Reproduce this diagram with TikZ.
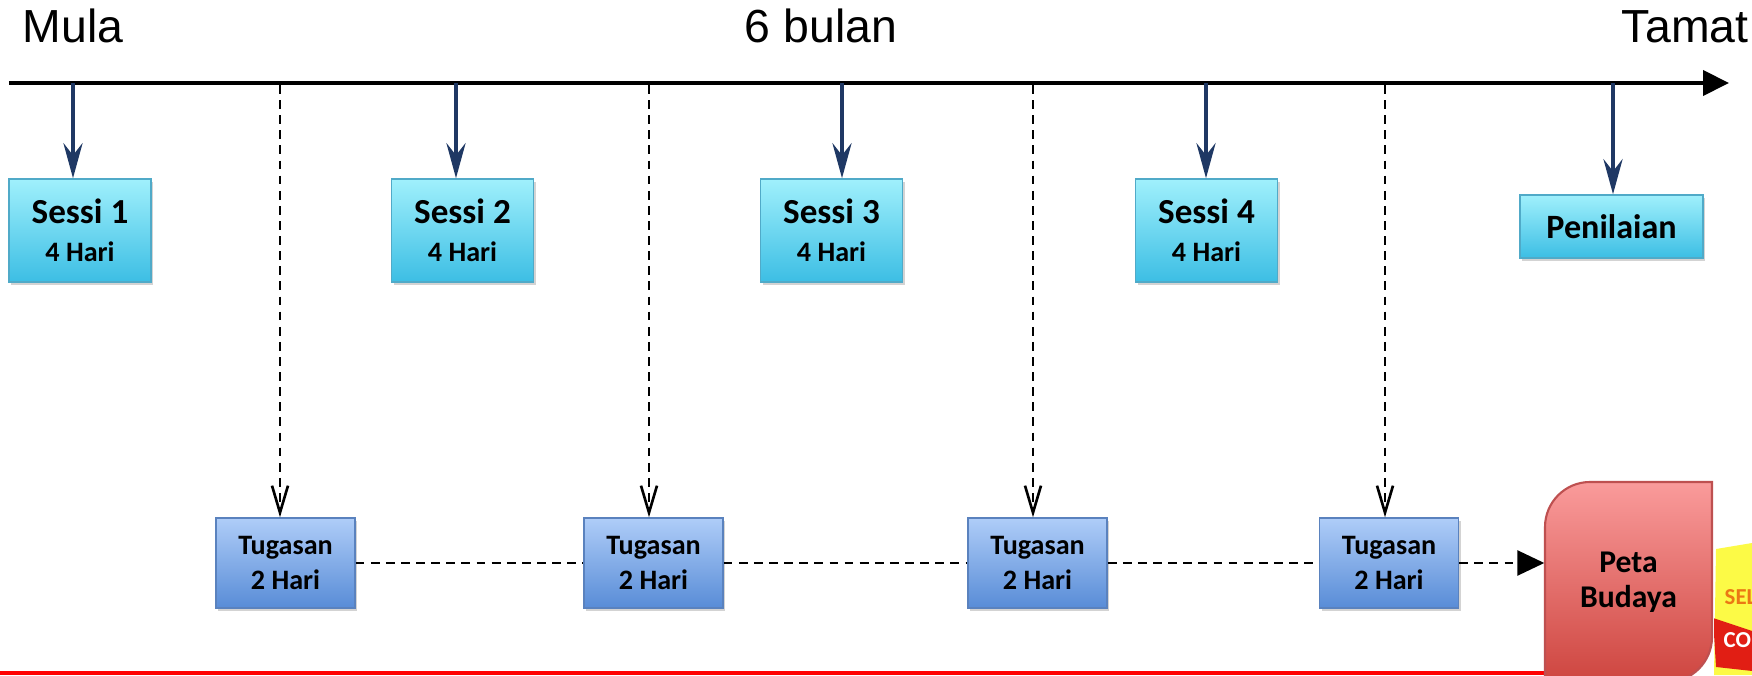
\documentclass[tikz,border=0pt]{standalone}
\usepackage{fontspec}
\setmainfont{Liberation Sans}
\newfontfamily\boxfont{Carlito}
\usetikzlibrary{arrows.meta, positioning, shadows, calc}

\definecolor{navy}{RGB}{31,56,100}
\definecolor{sessitop}{RGB}{160,240,252}
\definecolor{sessibot}{RGB}{60,190,228}
\definecolor{sessiline}{RGB}{80,170,200}
\definecolor{tugastop}{RGB}{175,205,248}
\definecolor{tugasbot}{RGB}{88,140,215}
\definecolor{tugasline}{RGB}{90,130,190}
\definecolor{petatop}{RGB}{250,155,155}
\definecolor{petabot}{RGB}{205,68,62}
\definecolor{petaline}{RGB}{190,80,80}
\definecolor{logoyellow}{RGB}{252,250,70}
\definecolor{logored}{RGB}{225,30,20}
\definecolor{logoorange}{RGB}{235,120,20}

\begin{document}
\begin{tikzpicture}[
        sessi/.style={rectangle, draw=sessiline, top color=sessitop, bottom color=sessibot, minimum width=1.42cm, minimum height=1.03cm, align=center, inner sep=0pt, font=\boxfont\bfseries\fontsize{8}{10.8}\selectfont, drop shadow={shadow xshift=0.6pt, shadow yshift=-0.9pt, opacity=0.35}},
        tugas/.style={rectangle, draw=tugasline, top color=tugastop, bottom color=tugasbot, minimum width=1.39cm, minimum height=0.90cm, align=center, inner sep=0pt, font=\boxfont\bfseries\fontsize{8}{10}\selectfont, drop shadow={shadow xshift=0.6pt, shadow yshift=-0.9pt, opacity=0.35}},
        marker/.style={draw=navy, line width=1.4pt, -{Stealth[length=0.35cm, width=0.19cm, inset=0.12cm]}},
        link/.style={dash pattern=on 2.5pt off 1.8pt, line width=0.75pt},
        tlabel/.style={font=\fontsize{13.2}{15}\selectfont, anchor=base, inner sep=0pt}
    ]
        \useasboundingbox (0,0) rectangle (17.52,6.75);

        \node[tlabel, anchor=base west] (mula) at (0.22,6.32) {Mula};
        \node[tlabel] (bulan) at (8.21,6.32) {6 bulan};
        \node[tlabel, anchor=base east] (tamat) at (17.49,6.32) {Tamat};

        \coordinate (start) at (0.09,5.92);
        \coordinate (end) at (17.29,5.92);
        \draw[line width=1.15pt, -{Triangle[length=0.26cm, width=0.25cm]}] (start) -- (end);

        \coordinate (t1) at (0.73,5.92);
        \coordinate (t2) at (4.56,5.92);
        \coordinate (t3) at (8.42,5.92);
        \coordinate (t4) at (12.06,5.92);
        \coordinate (t5) at (16.13,5.92);

        \node[sessi] (s1) at (0.80,4.445) {{\fontsize{10}{10.8}\selectfont Sessi 1}\\4 Hari};
        \node[sessi] (s2) at (4.625,4.445) {{\fontsize{10}{10.8}\selectfont Sessi 2}\\4 Hari};
        \node[sessi] (s3) at (8.315,4.445) {{\fontsize{10}{10.8}\selectfont Sessi 3}\\4 Hari};
        \node[sessi] (s4) at (12.065,4.445) {{\fontsize{10}{10.8}\selectfont Sessi 4}\\4 Hari};
        \node[sessi, minimum width=1.83cm, minimum height=0.63cm, font=\boxfont\bfseries\fontsize{9.7}{11}\selectfont] (nilai) at (16.115,4.485) {Penilaian};

        \draw[marker] (t1) -- (t1 |- s1.north);
        \draw[marker] (t2) -- (t2 |- s2.north);
        \draw[marker] (t3) -- (t3 |- s3.north);
        \draw[marker] (t4) -- (t4 |- s4.north);
        \draw[marker] (t5) -- (t5 |- nilai.north);

        \coordinate (d1) at (2.80,5.90);
        \coordinate (d2) at (6.49,5.90);
        \coordinate (d3) at (10.33,5.90);
        \coordinate (d4) at (13.85,5.90);

        \node[tugas] (g1) at (2.855,1.12) {Tugasan\\2 Hari};
        \node[tugas] (g2) at (6.535,1.12) {Tugasan\\2 Hari};
        \node[tugas] (g3) at (10.375,1.12) {Tugasan\\2 Hari};
        \node[tugas] (g4) at (13.89,1.12) {Tugasan\\2 Hari};

        \draw[link, -{Straight Barb[length=0.27cm, width=0.16cm]}] (d1) -- (d1 |- g1.north);
        \draw[link, -{Straight Barb[length=0.27cm, width=0.16cm]}] (d2) -- (d2 |- g2.north);
        \draw[link, -{Straight Barb[length=0.27cm, width=0.16cm]}] (d3) -- (d3 |- g3.north);
        \draw[link, -{Straight Barb[length=0.27cm, width=0.16cm]}] (d4) -- (d4 |- g4.north);

        \draw[link] (g1) -- (g2);
        \draw[link] (g2) -- (g3);
        \draw[link] (g3) -- (g4);

        \draw[red, line width=0.04cm] (0,0.02) -- (15.5,0.02);

        \path[draw=petaline, line width=0.6pt, top color=petatop, bottom color=petabot]
            (15.45,-0.10) -- (15.45,1.48) arc[start angle=180, end angle=90, radius=0.45]
            -- (17.12,1.93) -- (17.12,0.38) arc[start angle=0, end angle=-90, radius=0.45] -- cycle;
        \node[minimum width=1.67cm, minimum height=2.0cm, inner sep=0pt, align=center, font=\boxfont\bfseries\fontsize{9}{10}\selectfont] (peta) at (16.285,0.93) {Peta\\Budaya};

        \draw[link, -{Triangle[length=0.27cm, width=0.25cm]}] (g4) -- (g4 -| peta.west);

        \begin{scope}
            \clip (17.14,0) rectangle (17.52,1.35);
            \fill[logoyellow] (17.14,0) -- (17.16,1.26) -- (17.52,1.32) -- (17.52,0) -- cycle;
            \fill[logored] (17.13,0.57) -- (17.52,0.44) -- (17.52,0.04) -- (17.16,0.08) -- cycle;
            \node[anchor=west, inner sep=0pt, text=logoorange, font=\boxfont\bfseries\fontsize{6.5}{7}\selectfont] (sel) at (17.24,0.78) {SEL};
            \node[anchor=west, inner sep=0pt, text=white, font=\boxfont\bfseries\fontsize{6.5}{7}\selectfont] (co) at (17.23,0.35) {CO};
        \end{scope}
    \end{tikzpicture}
\end{document}
